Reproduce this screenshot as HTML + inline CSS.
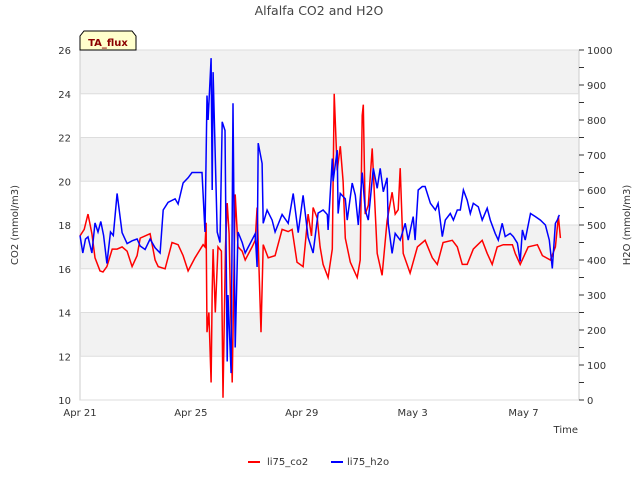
<!DOCTYPE html>
<html><head><meta charset="utf-8"><style>
body{margin:0;background:#fff;font-family:"DejaVu Sans",sans-serif}
svg text{font-family:"DejaVu Sans",sans-serif}
</style></head><body>
<svg id="chart" width="640" height="480" xmlns="http://www.w3.org/2000/svg">
<text x="319" y="15" text-anchor="middle" font-size="12.5" fill="#444">Alfalfa CO2 and H2O</text>
<g id="bands"></g>
<rect x="80" y="50" width="499" height="350" fill="none" stroke="#ccc"/>
<g id="yticks"></g><g id="y2ticks"></g><g id="xticks"></g>
<path id="co2line" fill="none" stroke="#ff0000" stroke-width="1.5"/>
<path id="h2oline" fill="none" stroke="#0000ff" stroke-width="1.5"/>
<g>
<path d="M80,50 L80,36 L84,31 L132,31 L136,36 L136,50 Z" fill="#ffffcc" stroke="#000"/>
<text x="108" y="46" text-anchor="middle" font-size="10" font-weight="bold" fill="#8b0000">TA_flux</text></g>
<text transform="translate(18,225) rotate(-90)" text-anchor="middle" font-size="10" fill="#333">CO2 (mmol/m3)</text>
<text transform="translate(630,225) rotate(-90)" text-anchor="middle" font-size="10" fill="#333">H2O (mmol/m3)</text>
<text x="578" y="433" text-anchor="end" font-size="10" fill="#333">Time</text>
<g>
<line x1="248" y1="462" x2="260" y2="462" stroke="#ff0000" stroke-width="2"/>
<text x="267" y="465" font-size="10" fill="#333">li75_co2</text>
<line x1="331" y1="462" x2="343" y2="462" stroke="#0000ff" stroke-width="2"/>
<text x="347" y="465" font-size="10" fill="#333">li75_h2o</text></g>
</svg>
<script>
const co2Days=[0,0.15,0.29,0.43,0.54,0.72,0.83,0.97,1.16,1.34,1.52,1.70,1.88,2.06,2.17,2.35,2.53,2.71,2.82,3.07,3.32,3.54,3.72,3.90,4.15,4.44,4.51,4.55,4.58,4.65,4.73,4.77,4.80,4.88,4.98,5.10,5.16,5.25,5.31,5.38,5.49,5.60,5.70,5.85,5.96,6.21,6.32,6.39,6.53,6.61,6.79,7.04,7.29,7.51,7.65,7.83,8.05,8.23,8.35,8.41,8.56,8.66,8.77,8.95,9.10,9.17,9.28,9.39,9.49,9.57,9.75,10.0,10.11,10.18,10.22,10.29,10.40,10.54,10.72,10.90,11.08,11.26,11.37,11.48,11.55,11.66,11.91,12.17,12.45,12.71,12.89,13.10,13.43,13.61,13.79,13.97,14.19,14.51,14.69,14.87,15.05,15.27,15.60,15.70,15.88,16.17,16.50,16.68,16.97,17.15,17.26,17.33];
const co2Values=[17.5,17.8,18.5,17.6,16.5,15.9,15.85,16.1,16.9,16.9,17.0,16.8,16.1,16.6,17.4,17.5,17.6,16.4,16.1,16.0,17.2,17.1,16.6,15.9,16.5,17.1,17.0,18.1,13.1,14.0,10.8,15.0,16.9,14.0,17.0,16.8,10.1,17.0,19.0,17.6,10.8,19.4,17.0,16.8,16.4,17.0,17.3,18.8,13.1,17.1,16.5,16.6,17.8,17.7,17.8,16.3,16.1,18.5,17.5,18.8,18.3,17.0,16.2,15.6,16.9,24.0,20.5,21.6,20.0,17.4,16.3,15.6,16.4,23.0,23.5,18.5,18.9,21.5,16.7,15.7,18.2,19.5,18.5,18.7,20.6,16.7,15.8,17.0,17.3,16.5,16.2,17.2,17.3,17.0,16.2,16.2,16.9,17.3,16.7,16.2,17.0,17.1,17.1,16.7,16.2,17.0,17.1,16.6,16.4,17.0,18.4,17.4];
const h2oDays=[0,0.1,0.2,0.29,0.43,0.54,0.65,0.75,0.85,0.97,1.1,1.2,1.34,1.52,1.70,1.88,2.06,2.17,2.35,2.53,2.71,2.89,3.0,3.18,3.43,3.54,3.72,3.90,4.04,4.40,4.51,4.58,4.62,4.73,4.77,4.80,4.95,5.05,5.13,5.23,5.31,5.34,5.45,5.52,5.60,5.70,5.85,5.96,6.32,6.39,6.43,6.57,6.61,6.75,6.93,7.04,7.29,7.51,7.69,7.87,8.05,8.23,8.41,8.59,8.77,8.92,8.95,9.10,9.13,9.28,9.31,9.39,9.57,9.64,9.82,9.93,10.04,10.18,10.29,10.40,10.58,10.72,10.83,10.94,11.08,11.12,11.26,11.37,11.55,11.73,11.84,12.02,12.09,12.20,12.35,12.45,12.64,12.82,12.92,13.07,13.18,13.36,13.47,13.61,13.72,13.83,13.97,14.08,14.19,14.37,14.51,14.69,14.80,14.98,15.09,15.23,15.34,15.52,15.63,15.78,15.88,15.96,16.06,16.25,16.43,16.61,16.79,16.93,17.04,17.15,17.22,17.29];
const h2oValues=[470,420,460,466,420,506,480,510,470,390,480,470,590,478,447,455,460,440,430,460,435,420,543,565,575,560,620,635,650,650,480,870,800,977,600,937,480,450,795,770,110,300,77,848,150,480,450,420,475,380,734,676,505,543,514,480,530,505,590,478,585,465,420,534,543,530,486,690,625,714,533,590,575,514,620,585,500,650,543,514,662,605,662,595,635,505,419,476,457,505,457,524,457,600,610,610,562,543,562,467,514,533,514,543,543,600,571,533,562,552,514,548,514,476,457,505,467,476,467,448,396,486,457,533,524,514,500,457,376,505,514,529];
const yTicks=[10,12,14,16,18,20,22,24,26];
const y2Ticks=[0,100,200,300,400,500,600,700,800,900,1000];
const xTickDays=[0,4,8,12,16];
const xTickLabels=["Apr 21","Apr 25","Apr 29","May 3","May 7"];
const NS="http://www.w3.org/2000/svg";
const X=d=>80+d*27.72;
const Y=v=>400-(v-10)*21.875;
const Y2=v=>400-v*0.35;
function mk(tag,attrs,parent,txt){const e=document.createElementNS(NS,tag);for(const k in attrs)e.setAttribute(k,attrs[k]);if(txt!==undefined)e.textContent=txt;document.getElementById(parent).appendChild(e);return e;}
for(let v=12;v<26;v+=4){const b=mk('rect',{x:80,y:Y(v+2),width:499,height:Y(v)-Y(v+2),fill:'#f2f2f2'},'bands');

}
mk('rect',{x:80,y:Y(26),width:499,height:Y(24)-Y(26),fill:'#f2f2f2'},'bands');
yTicks.forEach(v=>{const l=mk('line',{x1:80,x2:579,y1:Y(v),y2:Y(v),stroke:'#ddd'},'yticks');


const t=mk('text',{x:71,y:Y(v)+4,'text-anchor':'end','font-size':10,fill:'#333'},'yticks',String(v));

});
for(let v=0;v<=1000;v+=50){const l=mk('line',{x1:579,x2:584,y1:Y2(v),y2:Y2(v),stroke:'#333'},'y2ticks');

}
y2Ticks.forEach(v=>{const t=mk('text',{x:587,y:Y2(v)+4,'font-size':10,fill:'#333'},'y2ticks',String(v));

});
xTickDays.forEach((d,i)=>{const t=mk('text',{x:X(d),y:416,'text-anchor':'middle','font-size':10,fill:'#333'},'xticks',xTickLabels[i]);

});
document.getElementById('co2line').setAttribute('d',co2Days.map((d,i)=>(i?'L':'M')+X(d).toFixed(1)+','+Y(co2Values[i]).toFixed(1)).join(''));
document.getElementById('h2oline').setAttribute('d',h2oDays.map((d,i)=>(i?'L':'M')+X(d).toFixed(1)+','+Y2(h2oValues[i]).toFixed(1)).join(''));
</script>
</body></html>
